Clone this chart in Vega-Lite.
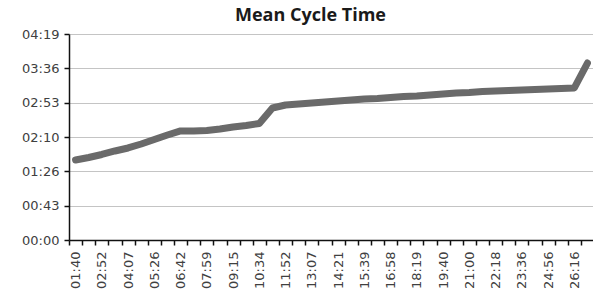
{
  "$schema": "https://vega.github.io/schema/vega-lite/v6.json",
  "autosize": "none",
  "width": 525,
  "height": 206,
  "padding": {"left": 69, "top": 34, "right": 0, "bottom": 61},
  "background": "white",
  "config": {"view": {"stroke": null}},
  "title": {
    "text": "Mean Cycle Time",
    "font": "Open Sans",
    "fontSize": 18,
    "fontWeight": "bold",
    "color": "#1a1a1a",
    "anchor": "middle",
    "dx": -21,
    "offset": 3
  },
  "data": {
    "values": [
      {"t": "01:40", "v": 100.7},
      {"t": "02:16", "v": 103.8},
      {"t": "02:52", "v": 107.6},
      {"t": "03:29", "v": 112.0},
      {"t": "04:07", "v": 115.8},
      {"t": "04:46", "v": 120.8},
      {"t": "05:26", "v": 126.5},
      {"t": "06:04", "v": 132.1},
      {"t": "06:42", "v": 137.2},
      {"t": "07:20", "v": 137.2},
      {"t": "07:59", "v": 137.8},
      {"t": "08:37", "v": 139.7},
      {"t": "09:15", "v": 142.2},
      {"t": "09:54", "v": 144.1},
      {"t": "10:34", "v": 146.6},
      {"t": "11:13", "v": 166.1},
      {"t": "11:52", "v": 169.9},
      {"t": "12:29", "v": 171.1},
      {"t": "13:07", "v": 172.4},
      {"t": "13:44", "v": 173.6},
      {"t": "14:21", "v": 174.9},
      {"t": "15:00", "v": 176.2},
      {"t": "15:39", "v": 177.4},
      {"t": "16:18", "v": 178.0},
      {"t": "16:58", "v": 179.3},
      {"t": "17:38", "v": 180.6},
      {"t": "18:19", "v": 181.2},
      {"t": "18:59", "v": 182.5},
      {"t": "19:40", "v": 183.7},
      {"t": "20:20", "v": 185.0},
      {"t": "21:00", "v": 185.6},
      {"t": "21:39", "v": 186.9},
      {"t": "22:18", "v": 187.5},
      {"t": "22:57", "v": 188.1},
      {"t": "23:36", "v": 188.7},
      {"t": "24:16", "v": 189.4},
      {"t": "24:56", "v": 190.0},
      {"t": "25:36", "v": 190.6},
      {"t": "26:16", "v": 191.3},
      {"t": "26:56", "v": 222.7}
    ]
  },
  "mark": {
    "type": "line",
    "color": "#6a6a6a",
    "strokeWidth": 7,
    "strokeCap": "round",
    "strokeJoin": "round"
  },
  "encoding": {
    "x": {
      "field": "t",
      "type": "ordinal",
      "sort": null,
      "bandPosition": 0.5,
      "scale": {"type": "band", "paddingInner": 0, "paddingOuter": 0},
      "axis": {
        "title": null,
        "tickBand": "extent",
        "labelAngle": 270,
        "labelAlign": "right",
        "labelBaseline": "middle",
        "labelOverlap": false,
        "labelPadding": 6,
        "labelFont": "DejaVu Sans",
        "labelFontSize": 13,
        "labelColor": "#404040",
        "labelExpr": "indexof(['01:40','02:52','04:07','05:26','06:42','07:59','09:15','10:34','11:52','13:07','14:21','15:39','16:58','18:19','19:40','21:00','22:18','23:36','24:56','26:16'], datum.value) >= 0 ? datum.value : ''",
        "domainColor": "#111111",
        "domainWidth": 1.5,
        "tickColor": "#111111",
        "tickWidth": 1.5,
        "tickSize": 5,
        "grid": false
      }
    },
    "y": {
      "field": "v",
      "type": "quantitative",
      "scale": {"domain": [0, 259.2], "nice": false, "zero": true},
      "axis": {
        "title": null,
        "values": [0, 43.2, 86.4, 129.6, 172.8, 216, 259.2],
        "labelExpr": "utcFormat(round(datum.value) * 1000, '%M:%S')",
        "labelFont": "DejaVu Sans",
        "labelFontSize": 13,
        "labelColor": "#404040",
        "labelPadding": 5,
        "domainColor": "#111111",
        "domainWidth": 1.5,
        "tickColor": "#111111",
        "tickWidth": 1.5,
        "tickSize": 5,
        "grid": true,
        "gridColor": "#c4c4c4",
        "gridWidth": 1.2
      }
    }
  }
}
